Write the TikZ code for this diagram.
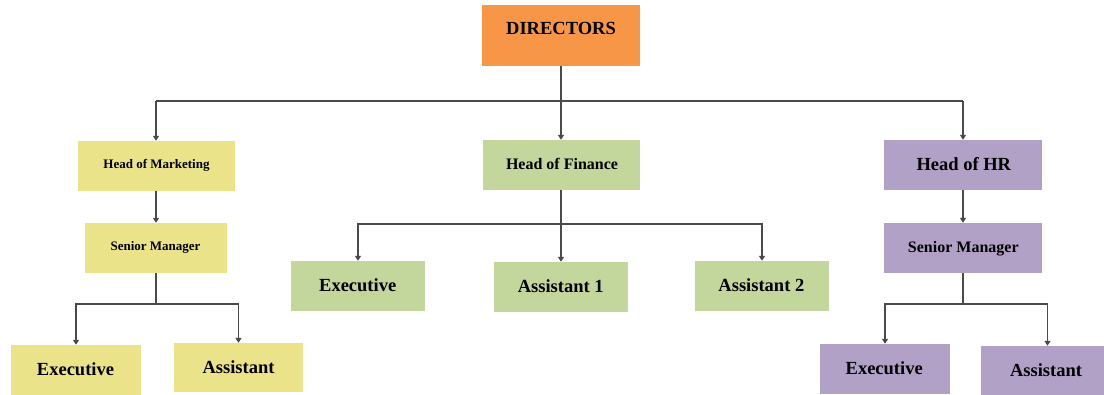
\documentclass[tikz,border=0pt]{standalone}
\usepackage{fontspec}
\setmainfont{Liberation Serif}
\usetikzlibrary{arrows.meta}
\definecolor{orgc}{HTML}{F79646}
\definecolor{yelc}{HTML}{EAE38A}
\definecolor{grnc}{HTML}{C3D69B}
\definecolor{purc}{HTML}{B2A1C7}
\definecolor{linec}{HTML}{4A4A4A}
\begin{document}
\begin{tikzpicture}[x=1pt,y=-1pt,
  box/.style={rectangle,inner sep=0pt,draw=none},
  txt/.style={inner sep=0pt,text height=.66em,text depth=0pt,font=\bfseries,yshift=-3pt},
  big/.style={txt,font=\bfseries\fontsize{18.5}{20}\selectfont},
  mid/.style={txt,font=\bfseries\fontsize{16}{18}\selectfont},
  sml/.style={txt,font=\bfseries\fontsize{13}{15}\selectfont},
  line/.style={draw=linec,line width=1.3pt},
  arr/.style={line,-{Triangle[width=6pt,length=5pt]}}]
\useasboundingbox[fill=white] (0,0) rectangle (1104,394);
% boxes
\node[box,fill=orgc,minimum width=158pt,minimum height=61pt] (dir) at (561,35.5) {};
\node[box,fill=yelc,minimum width=157pt,minimum height=50pt] (hom) at (156,166) {};
\node[box,fill=yelc,minimum width=142pt,minimum height=50pt] (sml) at (156,248) {};
\node[box,fill=yelc,minimum width=130pt,minimum height=50pt] (exl) at (76,370) {};
\node[box,fill=yelc,minimum width=129pt,minimum height=49pt] (asl) at (238.5,367.5) {};
\node[box,fill=grnc,minimum width=157pt,minimum height=50pt] (hof) at (561,165) {};
\node[box,fill=grnc,minimum width=134pt,minimum height=50pt] (exf) at (358,286) {};
\node[box,fill=grnc,minimum width=134pt,minimum height=50pt] (as1) at (561,287) {};
\node[box,fill=grnc,minimum width=134pt,minimum height=50pt] (as2) at (762,286) {};
\node[box,fill=purc,minimum width=158pt,minimum height=50pt] (hor) at (963,165) {};
\node[box,fill=purc,minimum width=158pt,minimum height=50pt] (smr) at (963,248) {};
\node[box,fill=purc,minimum width=130pt,minimum height=50pt] (exr) at (885,369) {};
\node[box,fill=purc,minimum width=134pt,minimum height=49pt] (asr) at (1047.5,370.5) {};
% texts
\node[big] (dirt) at (561,28) {DIRECTORS};
\node[sml] (homt) at (156.5,161.7) {Head of Marketing};
\node[sml] (smlt) at (155.5,244) {Senior Manager};
\node[big] (exlt) at (75.5,369) {Executive};
\node[big] (aslt) at (238.5,366.7) {Assistant};
\node[mid] (hoft) at (562,163) {Head of Finance};
\node[big] (exft) at (357.7,285) {Executive};
\node[big] (as1t) at (560.7,285.7) {Assistant 1};
\node[big] (as2t) at (761.4,285) {Assistant 2};
\node[big] (hort) at (963.8,164) {Head of HR};
\node[mid] (smrt) at (963.3,246) {Senior Manager};
\node[big] (exrt) at (884.2,368) {Executive};
\node[big] (asrt) at (1046,370) {Assistant};
% connectors
\coordinate (bus) at (561,101);
\coordinate (jl) at (156,304);
\coordinate (jf) at (561,224);
\coordinate (jr) at (963,304);
\draw[line] (hom.north |- bus) -- (hor.north |- bus);
\draw[arr] (dir.south) -- (hof.north);
\draw[arr] (hom.north |- bus) -- (hom.north);
\draw[arr] (hor.north |- bus) -- (hor.north);
\draw[arr] (hom.south) -- (sml.north);
\draw[line] (sml.south) -- (jl);
\draw[arr] (jl) -| (exl.north);
\draw[arr] (jl) -| (asl.north);
\draw[arr] (hof.south) -- (as1.north);
\draw[arr] (jf) -| (exf.north);
\draw[arr] (jf) -| (as2.north);
\draw[arr] (hor.south) -- (smr.north);
\draw[line] (smr.south) -- (jr);
\draw[arr] (jr) -| (exr.north);
\draw[arr] (jr) -| (asr.north);
\end{tikzpicture}
\end{document}
